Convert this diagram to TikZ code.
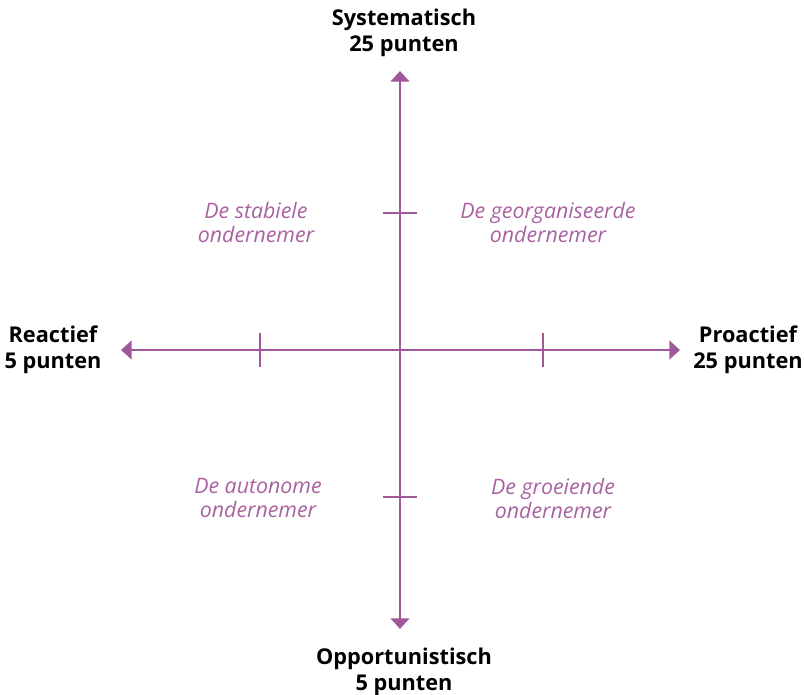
\documentclass[tikz,border=0pt]{standalone}
\usepackage{fontspec}
\setmainfont{Open Sans}
\usepackage{tikz}
\usetikzlibrary{positioning,arrows.meta}
\usepackage{xcolor}
\definecolor{axispurple}{RGB}{160,88,152}
\definecolor{quadpurple}{RGB}{168,98,160}

\begin{document}
\begin{tikzpicture}[x=0.75pt,y=-0.75pt,
    axis/.style={axispurple,line width=1.7pt,-{Triangle[length=8pt,width=14pt]}},
    tickmark/.style={axispurple,line width=1.5pt},
    polelabel/.style={font=\fontsize{16.3}{19.5}\selectfont\bfseries,align=center,inner sep=0pt},
    quadlabel/.style={font=\fontsize{16}{18}\selectfont\itshape,text=quadpurple,align=center,inner sep=0pt}]
  \useasboundingbox (0,0) rectangle (804,694);
  \coordinate (O) at (400,350);
  % axis ends
  \coordinate (up)    at (400,71);
  \coordinate (down)  at (400,629);
  \coordinate (left)  at (121,350);
  \coordinate (right) at (680,350);
  \draw[axis] (O) -- (up);
  \draw[axis] (O) -- (down);
  \draw[axis] (O) -- (left);
  \draw[axis] (O) -- (right);
  % ticks on both axes
  \foreach \x in {260,543}
    \draw[tickmark] (\x,333) -- (\x,367);
  \foreach \y in {213,497}
    \draw[tickmark] (383,\y) -- (417,\y);
  % pole labels
  \node[polelabel] (sys)  at (404,33)  {Systematisch\\25 punten};
  \node[polelabel] (opp)  at (404,672) {Opportunistisch\\5 punten};
  \node[polelabel] (reac) at (53,350)  {Reactief\\5 punten};
  \node[polelabel] (pro)  at (748,350) {Proactief\\25 punten};
  % quadrants
  \node[quadlabel] (stab) at (256,222) {De stabiele\\ondernemer};
  \node[quadlabel] (org)  at (548,222) {De georganiseerde\\ondernemer};
  \node[quadlabel] (aut)  at (258,498) {De autonome\\ondernemer};
  \node[quadlabel] (groe) at (553,498) {De groeiende\\ondernemer};
\end{tikzpicture}
\end{document}
